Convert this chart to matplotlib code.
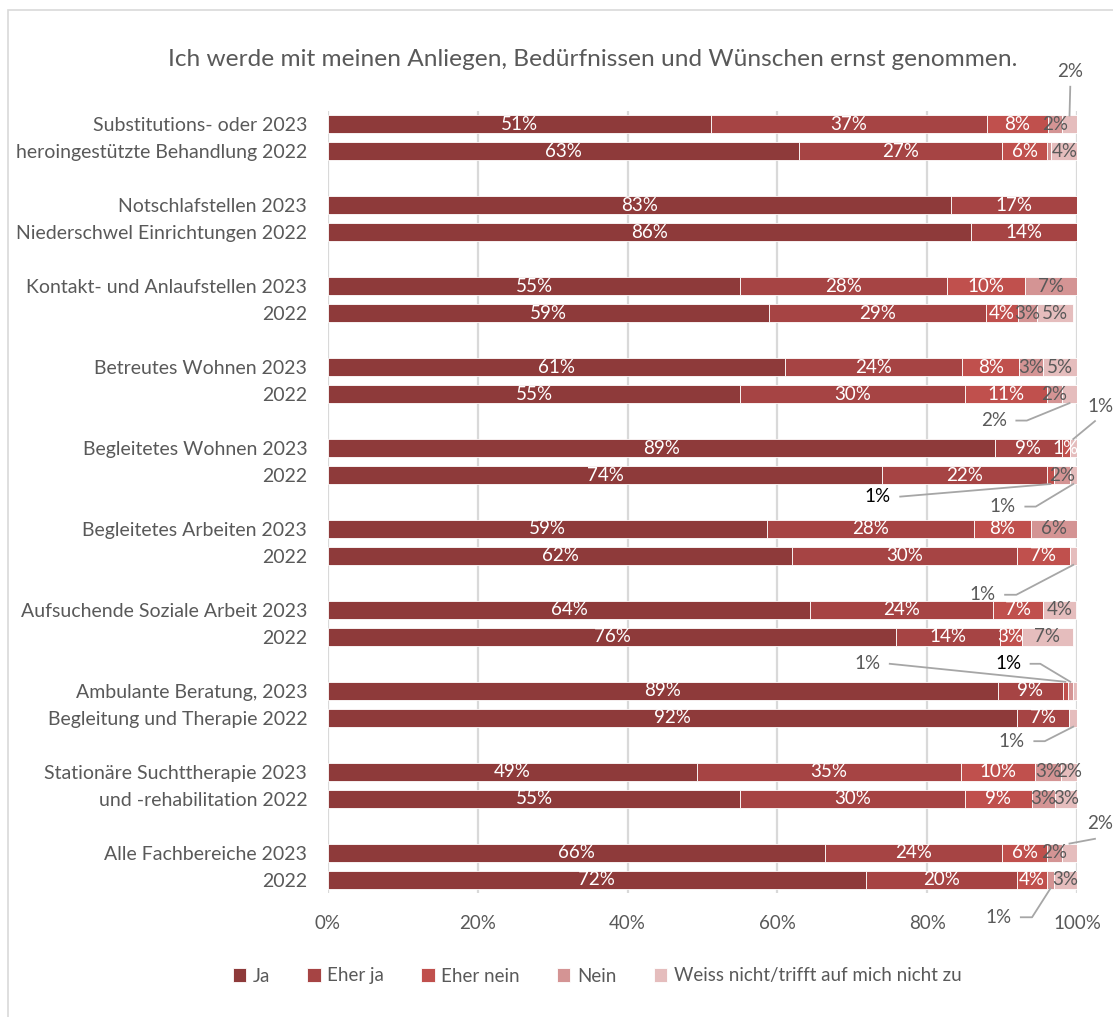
import numpy as np
import matplotlib
matplotlib.use("Agg")
import matplotlib.pyplot as plt
from matplotlib.patches import Rectangle

plt.rcParams['font.family'] = ['Lato', 'DejaVu Sans']

# ---- data -------------------------------------------------------------
title = "Ich werde mit meinen Anliegen, Bedürfnissen und Wünschen ernst genommen."

series = ["Ja", "Eher ja", "Eher nein", "Nein", "Weiss nicht/trifft auf mich nicht zu"]

row_labels = [
    "Substitutions- oder 2023", "heroingestützte Behandlung 2022",
    "Notschlafstellen 2023", "Niederschwel Einrichtungen 2022",
    "Kontakt- und Anlaufstellen 2023", "2022",
    "Betreutes Wohnen 2023", "2022",
    "Begleitetes Wohnen 2023", "2022",
    "Begleitetes Arbeiten 2023", "2022",
    "Aufsuchende Soziale Arbeit 2023", "2022",
    "Ambulante Beratung, 2023", "Begleitung und Therapie 2022",
    "Stationäre Suchttherapie 2023", "und -rehabilitation 2022",
    "Alle Fachbereiche 2023", "2022",
]

ja        = [51.1, 62.9, 83.2, 85.8, 55.0, 58.9, 61.0, 55.0, 89.0, 74.0,
             58.6, 62.0, 64.4, 75.9, 89.4, 92.0, 49.3, 55.0, 66.3, 71.8]
eher_ja   = [36.9, 27.1, 16.8, 14.2, 27.6, 29.0, 23.7, 30.0, 9.0, 22.0,
             27.6, 30.0, 24.4, 13.8, 8.7, 6.9, 35.2, 30.0, 23.7, 20.2]
eher_nein = [8.1, 6.0, 0.0, 0.0, 10.4, 4.2, 7.6, 11.0, 1.0, 0.9,
             7.6, 7.0, 6.7, 2.9, 0.7, 0.0, 9.9, 9.0, 6.0, 4.0]
nein      = [1.9, 0.5, 0.0, 0.0, 7.0, 2.6, 3.1, 2.0, 0.0, 2.1,
             6.2, 0.0, 0.0, 0.0, 0.6, 0.0, 3.4, 3.0, 2.0, 0.9]
weiss     = [2.0, 3.8, 0.0, 0.0, 0.0, 4.8, 4.6, 2.0, 1.0, 1.0,
             0.0, 1.0, 4.4, 6.9, 0.6, 1.2, 2.2, 3.0, 2.0, 3.1]

colors = ["#8E3A3A", "#A64444", "#C0504D", "#D49494", "#E5BDBD"]
label_colors = ["white", "white", "white", "#595959", "#595959"]

# small segments labelled inside although < 1.5 %
extra_inside = [(8, 2)]
# callouts: (row, segment, text x %, text slot, elbow x % or None, text colour)
callouts = [
    (0, 4, 99.1, -1.95, None, "#595959"),
    (7, 4, 88.9, 10.98, 93.3, "#595959"),
    (8, 4, 103.1, 10.45, None, "#595959"),
    (9, 2, 73.4, 13.80, None, "#000000"),
    (9, 4, 90.1, 14.17, 94.5, "#595959"),
    (11, 4, 87.4, 17.44, 91.9, "#595959"),
    (14, 2, 72.0, 20.00, None, "#595959"),
    (14, 3, 90.8, 20.00, 95.1, "#000000"),
    (15, 4, 91.3, 22.87, 95.7, "#595959"),
    (18, 4, 103.1, 25.94, None, "#595959"),
    (19, 3, 89.5, 29.40, 94.0, "#595959"),
]
callout_keys = [(c[0], c[1]) for c in callouts]

FS = 13.5

# ---- layout -----------------------------------------------------------
W, H = 1113, 1017
fig = plt.figure(figsize=(W / 100, H / 100), dpi=100, facecolor="white")
ax = fig.add_axes([328 / W, 1 - 893 / H, (1077 - 328) / W, (893 - 111) / H])

# outer chart border
fig.patches.append(Rectangle((8 / W, -0.05), 1.1, 1 - 10 / H + 0.05,
                             transform=fig.transFigure, fill=False,
                             edgecolor="#D9D9D9", linewidth=1.2))

n = len(row_labels)
ypos = np.array([3 * (i // 2) + (i % 2) for i in range(n)])
bar_h = 18 / 27

data = np.array([ja, eher_ja, eher_nein, nein, weiss])
left = np.zeros(n)
for k, name in enumerate(series):
    ax.barh(ypos, data[k], left=left, height=bar_h, color=colors[k],
            edgecolor="white", linewidth=0.6, label=name, zorder=3)
    for i in range(n):
        v = data[k][i]
        if (i, k) in callout_keys:
            continue
        if v >= 1.5 or (i, k) in extra_inside:
            ax.text(left[i] + v / 2, ypos[i], f"{round(v)}%", ha="center",
                    va="center", color=label_colors[k], fontsize=FS, zorder=4)
    left = left + data[k]

# callouts
starts = np.vstack([np.zeros(n), np.cumsum(data, axis=0)[:-1]])
for row, seg, tx, ty, ex, col in callouts:
    v = data[seg][row]
    tgt_x = starts[seg][row] + v / 2
    tgt_y = ypos[row] - bar_h / 2 if ty < ypos[row] else ypos[row] + bar_h / 2
    ax.text(tx, ty, f"{max(1, round(v))}%", ha="center", va="center",
            color=col, fontsize=FS, clip_on=False, zorder=5)
    if ex is None:
        if abs(tx - tgt_x) < 1.5:
            pts_x, pts_y = [tx, tgt_x], [ty + 0.55 * np.sign(tgt_y - ty), tgt_y]
        elif tx > tgt_x:
            pts_x, pts_y = [tx - 0.7, tgt_x], [ty + 0.55 * np.sign(tgt_y - ty), tgt_y]
        else:
            pts_x, pts_y = [tx + 3.0, tgt_x], [ty, tgt_y]
    else:
        pts_x, pts_y = [tx + 3.0, ex, tgt_x], [ty, ty, tgt_y]
    ax.plot(pts_x, pts_y, color="#A6A6A6", linewidth=1.3, clip_on=False, zorder=5)

ax.set_xlim(0, 100)
ax.set_ylim(28.5, -0.5)
ax.set_xticks([0, 20, 40, 60, 80, 100])
ax.set_xticklabels(["0%", "20%", "40%", "60%", "80%", "100%"])
ax.set_yticks(ypos)
ax.set_yticklabels(row_labels)
ax.tick_params(axis="both", length=0, colors="#595959", labelsize=FS)
ax.tick_params(axis="y", labelsize=14)
ax.tick_params(axis="x", pad=16)
ax.tick_params(axis="y", pad=15)
ax.xaxis.grid(True, color="#D9D9D9", linewidth=1.6, zorder=0)
ax.set_axisbelow(True)
for s in ax.spines.values():
    s.set_visible(False)

fig.text(593 / W, 1 - 60 / H, title, ha="center", va="center",
         fontsize=17.6, color="#595959")

fig.legend(loc="center", bbox_to_anchor=(597 / W, 1 - 976 / H), ncol=5,
           frameon=False, fontsize=FS, labelcolor="#595959",
           handlelength=0.7, handleheight=0.7, handletextpad=0.35,
           columnspacing=2.0)

fig.savefig("out.png", dpi=100, facecolor="white")
